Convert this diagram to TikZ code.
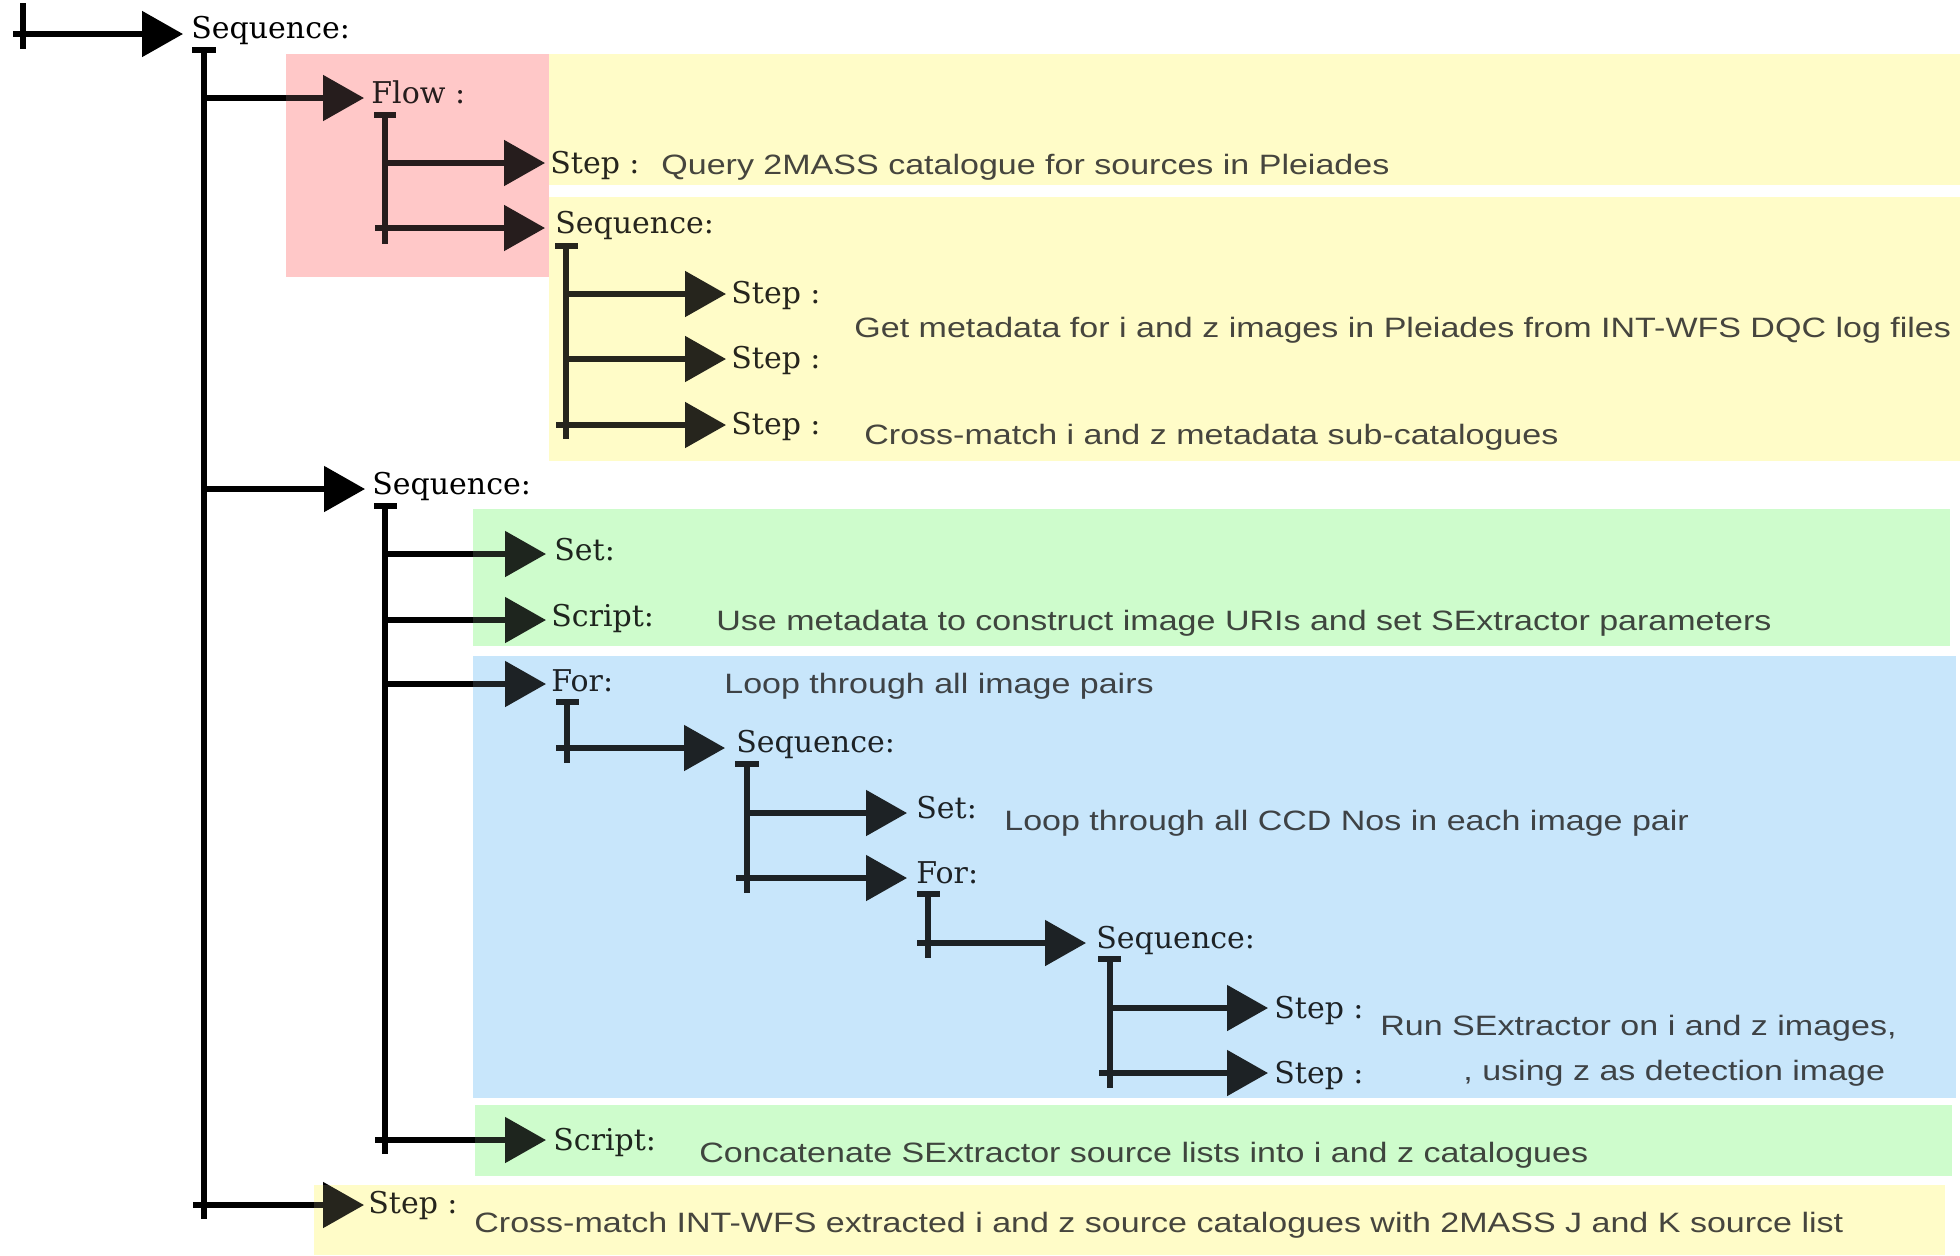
\documentclass[tikz,border=0pt]{standalone}
\usepackage{fontspec}
\usepackage{graphicx}
\newfontfamily\descfont{Liberation Sans}
\newfontfamily\lblfont{DejaVu Serif}
\usetikzlibrary{arrows.meta}
\definecolor{cpink}{RGB}{255,200,200}
\definecolor{cyel}{RGB}{255,252,200}
\definecolor{cgreen}{RGB}{206,252,204}
\definecolor{cblue}{RGB}{200,230,251}
\newcommand\zonefill[1]{%
  \fill[cpink,#1] (286,54) rectangle (549,277);
  \fill[cyel,#1] (549,54) rectangle (1960,185);
  \fill[cyel,#1] (549,197) rectangle (1960,461);
  \fill[cgreen,#1] (473,509) rectangle (1950,646);
  \fill[cblue,#1] (473,656) rectangle (1956,1098);
  \fill[cgreen,#1] (475,1105) rectangle (1952,1176);
  \fill[cyel,#1] (314,1185) rectangle (1945,1255);
}
\newcommand\dtext[1]{\scalebox{1.215}[1]{#1}}
\begin{document}
\begin{tikzpicture}[x=0.5pt,y=-0.5pt,
  ln/.style={line width=2.6pt},
  arr/.style={ln,-{Triangle[length=20.5pt,width=22.5pt]}},
  lbl/.style={anchor=base west,inner sep=0pt,font=\lblfont\fontsize{15}{17}\selectfont},
  dsc/.style={anchor=base west,inner sep=0pt,text=black!85,font=\descfont\fontsize{14}{16}\selectfont}]
\useasboundingbox (0,0) rectangle (1960,1255);
\fill[white] (0,0) rectangle (1960,1255);
\zonefill{}
% start
\coordinate (st1) at (23,3); \coordinate (st2) at (23,49);
\coordinate (st0) at (13,34); \coordinate (stt) at (183,34);
\draw[ln] (st1) -- (st2);
\draw[arr] (st0) -- (stt);
\node[lbl] (seq0) at (191,38) {Sequence:};
% v0
\coordinate (v0l) at (192,50); \coordinate (v0r) at (216,50);
\coordinate (v0t) at (204,50); \coordinate (v0b) at (204,1219);
\draw[ln] (v0l) -- (v0r); \draw[ln] (v0t) -- (v0b);
\coordinate (a1) at (204,98); \coordinate (t1) at (364,98);
\draw[arr] (a1) -- (t1);
\node[lbl] (flow) at (371,103) {Flow :};
\coordinate (a2) at (204,489); \coordinate (t2) at (365,489);
\draw[arr] (a2) -- (t2);
\node[lbl] (seq3) at (372,494) {Sequence:};
\coordinate (a3) at (193,1205); \coordinate (t3) at (364,1205);
\draw[arr] (a3) -- (t3);
\node[lbl] (stepB) at (368,1213) {Step :};
\node[dsc] (dB) at (474,1232) {\dtext{Cross-match INT-WFS extracted i and z source catalogues with 2MASS J and K source list}};
% v1 Flow
\coordinate (v1l) at (374,115); \coordinate (v1r) at (396,115);
\coordinate (v1t) at (385,115); \coordinate (v1b) at (385,244);
\draw[ln] (v1l) -- (v1r); \draw[ln] (v1t) -- (v1b);
\coordinate (a4) at (385,163); \coordinate (t4) at (545,163);
\draw[arr] (a4) -- (t4);
\node[lbl] (stepQ) at (550,173) {Step :};
\node[dsc] (dQ) at (661,174) {\dtext{Query 2MASS catalogue for sources in Pleiades}};
\coordinate (a5) at (375,228); \coordinate (t5) at (545,228);
\draw[arr] (a5) -- (t5);
\node[lbl] (seq2) at (555,233) {Sequence:};
% v2
\coordinate (v2l) at (555,246); \coordinate (v2r) at (578,246);
\coordinate (v2t) at (566,246); \coordinate (v2b) at (566,439);
\draw[ln] (v2l) -- (v2r); \draw[ln] (v2t) -- (v2b);
\coordinate (a6) at (566,294); \coordinate (t6) at (726,294);
\draw[arr] (a6) -- (t6);
\node[lbl] (stepM1) at (731,303) {Step :};
\coordinate (a7) at (566,359); \coordinate (t7) at (726,359);
\draw[arr] (a7) -- (t7);
\node[lbl] (stepM2) at (731,368) {Step :};
\coordinate (a8) at (556,425); \coordinate (t8) at (726,425);
\draw[arr] (a8) -- (t8);
\node[lbl] (stepM3) at (731,434) {Step :};
\node[dsc] (dM) at (854,337) {\dtext{Get metadata for i and z images in Pleiades from INT-WFS DQC log files}};
\node[dsc] (dX) at (864,444) {\dtext{Cross-match i and z metadata sub-catalogues}};
% v3
\coordinate (v3l) at (374,506); \coordinate (v3r) at (397,506);
\coordinate (v3t) at (385,506); \coordinate (v3b) at (385,1154);
\draw[ln] (v3l) -- (v3r); \draw[ln] (v3t) -- (v3b);
\coordinate (a9) at (385,554); \coordinate (t9) at (546,554);
\draw[arr] (a9) -- (t9);
\node[lbl] (set1) at (554,560) {Set:};
\coordinate (a10) at (385,620); \coordinate (t10) at (546,620);
\draw[arr] (a10) -- (t10);
\node[lbl] (scr1) at (551,626) {Script:};
\node[dsc] (dU) at (716,630) {\dtext{Use metadata to construct image URIs and set SExtractor parameters}};
\coordinate (a11) at (385,684); \coordinate (t11) at (546,684);
\draw[arr] (a11) -- (t11);
\node[lbl] (for1) at (551,691) {For:};
\node[dsc] (dL) at (724,693) {\dtext{Loop through all image pairs}};
\coordinate (a12) at (375,1140); \coordinate (t12) at (546,1140);
\draw[arr] (a12) -- (t12);
\node[lbl] (scr2) at (553,1150) {Script:};
\node[dsc] (dC) at (699,1162) {\dtext{Concatenate SExtractor source lists into i and z catalogues}};
% v4 For
\coordinate (v4l) at (556,702); \coordinate (v4r) at (579,702);
\coordinate (v4t) at (567,702); \coordinate (v4b) at (567,763);
\draw[ln] (v4l) -- (v4r); \draw[ln] (v4t) -- (v4b);
\coordinate (a13) at (556,748); \coordinate (t13) at (725,748);
\draw[arr] (a13) -- (t13);
\node[lbl] (seq4) at (736,752) {Sequence:};
% v5
\coordinate (v5l) at (735,764); \coordinate (v5r) at (759,764);
\coordinate (v5t) at (747,764); \coordinate (v5b) at (747,893);
\draw[ln] (v5l) -- (v5r); \draw[ln] (v5t) -- (v5b);
\coordinate (a14) at (747,813); \coordinate (t14) at (907,813);
\draw[arr] (a14) -- (t14);
\node[lbl] (set2) at (916,818) {Set:};
\node[dsc] (dS) at (1004,830) {\dtext{Loop through all CCD Nos in each image pair}};
\coordinate (a15) at (736,878); \coordinate (t15) at (907,878);
\draw[arr] (a15) -- (t15);
\node[lbl] (for2) at (916,883) {For:};
% v6
\coordinate (v6l) at (917,894); \coordinate (v6r) at (940,894);
\coordinate (v6t) at (928,894); \coordinate (v6b) at (928,958);
\draw[ln] (v6l) -- (v6r); \draw[ln] (v6t) -- (v6b);
\coordinate (a16) at (917,943); \coordinate (t16) at (1086,943);
\draw[arr] (a16) -- (t16);
\node[lbl] (seq5) at (1096,948) {Sequence:};
% v7
\coordinate (v7l) at (1098,959); \coordinate (v7r) at (1121,959);
\coordinate (v7t) at (1110,959); \coordinate (v7b) at (1110,1088);
\draw[ln] (v7l) -- (v7r); \draw[ln] (v7t) -- (v7b);
\coordinate (a17) at (1110,1008); \coordinate (t17) at (1268,1008);
\draw[arr] (a17) -- (t17);
\node[lbl] (stepR1) at (1274,1018) {Step :};
\coordinate (a18) at (1099,1073); \coordinate (t18) at (1268,1073);
\draw[arr] (a18) -- (t18);
\node[lbl] (stepR2) at (1274,1083) {Step :};
\node[dsc] (dR1) at (1380,1035) {\dtext{Run SExtractor on i and z images,}};
\node[dsc] (dR2) at (1463,1080) {\dtext{, using z as detection image}};
% tint overlay
\zonefill{fill opacity=0.15}
\end{tikzpicture}
\end{document}
